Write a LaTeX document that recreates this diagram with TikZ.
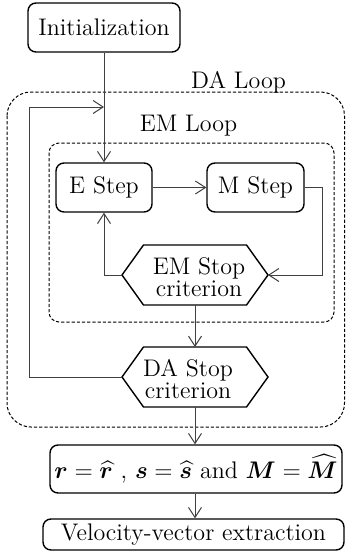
\documentclass[tikz,border=0pt]{standalone}
\usepackage{amsmath}
\usepackage{bm}
\usetikzlibrary{arrows.meta}
\begin{document}
\begin{tikzpicture}[x=0.5pt,y=-0.5pt,
  every node/.style={font=\fontsize{12}{11}\selectfont},
  box/.style={draw=black, line width=0.7pt, rounded corners=4pt, inner sep=0pt, align=center},
  conn/.style={draw=black!75, line width=0.5pt},
  arr/.style={conn, -{Straight Barb[length=5pt,width=6.5pt]}},
  loopbox/.style={draw=black, line width=0.5pt, dash pattern=on 1.6pt off 1pt},
  hexa/.style={draw=black, line width=0.7pt, line join=miter},
  hextext/.style={inner sep=0pt, align=center},
  lbl/.style={inner sep=0pt, anchor=base}
]
\useasboundingbox (0,0) rectangle (345,552);
% loops
\draw[loopbox, rounded corners=12pt] (7,92) rectangle (344.5,427);
\draw[loopbox, rounded corners=5pt] (49,143) rectangle (334,322);
\node[lbl] (dalbl) at (238.5,88) {DA Loop};
\node[lbl] (emlbl) at (188.5,131) {EM Loop};
% boxes
\node[box, minimum width=76pt, minimum height=24.5pt] (init) at (104,27.5) {Initialization};
\node[box, minimum width=48pt, minimum height=24.5pt] (estep) at (104,187.5) {E Step};
\node[box, minimum width=48.5pt, minimum height=24.5pt] (mstep) at (255.5,187.5) {M Step};
\node[box, minimum width=146pt, minimum height=24pt] (res) at (196,469) {$\bm{r}=\widehat{\bm{r}}$ , $\bm{s}=\widehat{\bm{s}}$ and $\bm{M}=\widehat{\bm{M}}$};
\node[box, minimum width=150.5pt, minimum height=15.5pt] (vel) at (193.5,534.5) {Velocity-vector extraction};
% EM stop hexagon
\coordinate (emW) at (122,275);
\coordinate (emE) at (268,275);
\coordinate (emS) at (195,305);
\draw[hexa] (emW) -- (143.5,245) -- (246.5,245) -- (emE) -- (246.5,305) -- (143.5,305) -- cycle;
\node[hextext] (emstop) at (199,277) {EM Stop\\criterion};
% DA stop hexagon
\coordinate (daW) at (122,377);
\coordinate (daE) at (268,377);
\coordinate (daN) at (195,347);
\coordinate (daS) at (195,407);
\draw[hexa] (daW) -- (143.5,347) -- (246.5,347) -- (daE) -- (246.5,407) -- (143.5,407) -- cycle;
\node[hextext] (dastop) at (188,379) {DA Stop\\criterion};
% connectors
\coordinate (fb) at (104,107);
\draw[arr] (init.south) -- (estep.north);
\draw[arr] (estep.east) -- (mstep.west);
\draw[arr] (mstep.east) -- ++(18,0) |- (emE);
\draw[arr] (emW) -| (estep.south);
\draw[arr] (emS) -- (daN);
\draw[arr] (daW) -- ++(-93,0) |- (fb);
\draw[arr] (daS) -- (daS |- res.north);
\draw[arr] (res.south -| daS) -- (daS |- vel.north);
\end{tikzpicture}
\end{document}
